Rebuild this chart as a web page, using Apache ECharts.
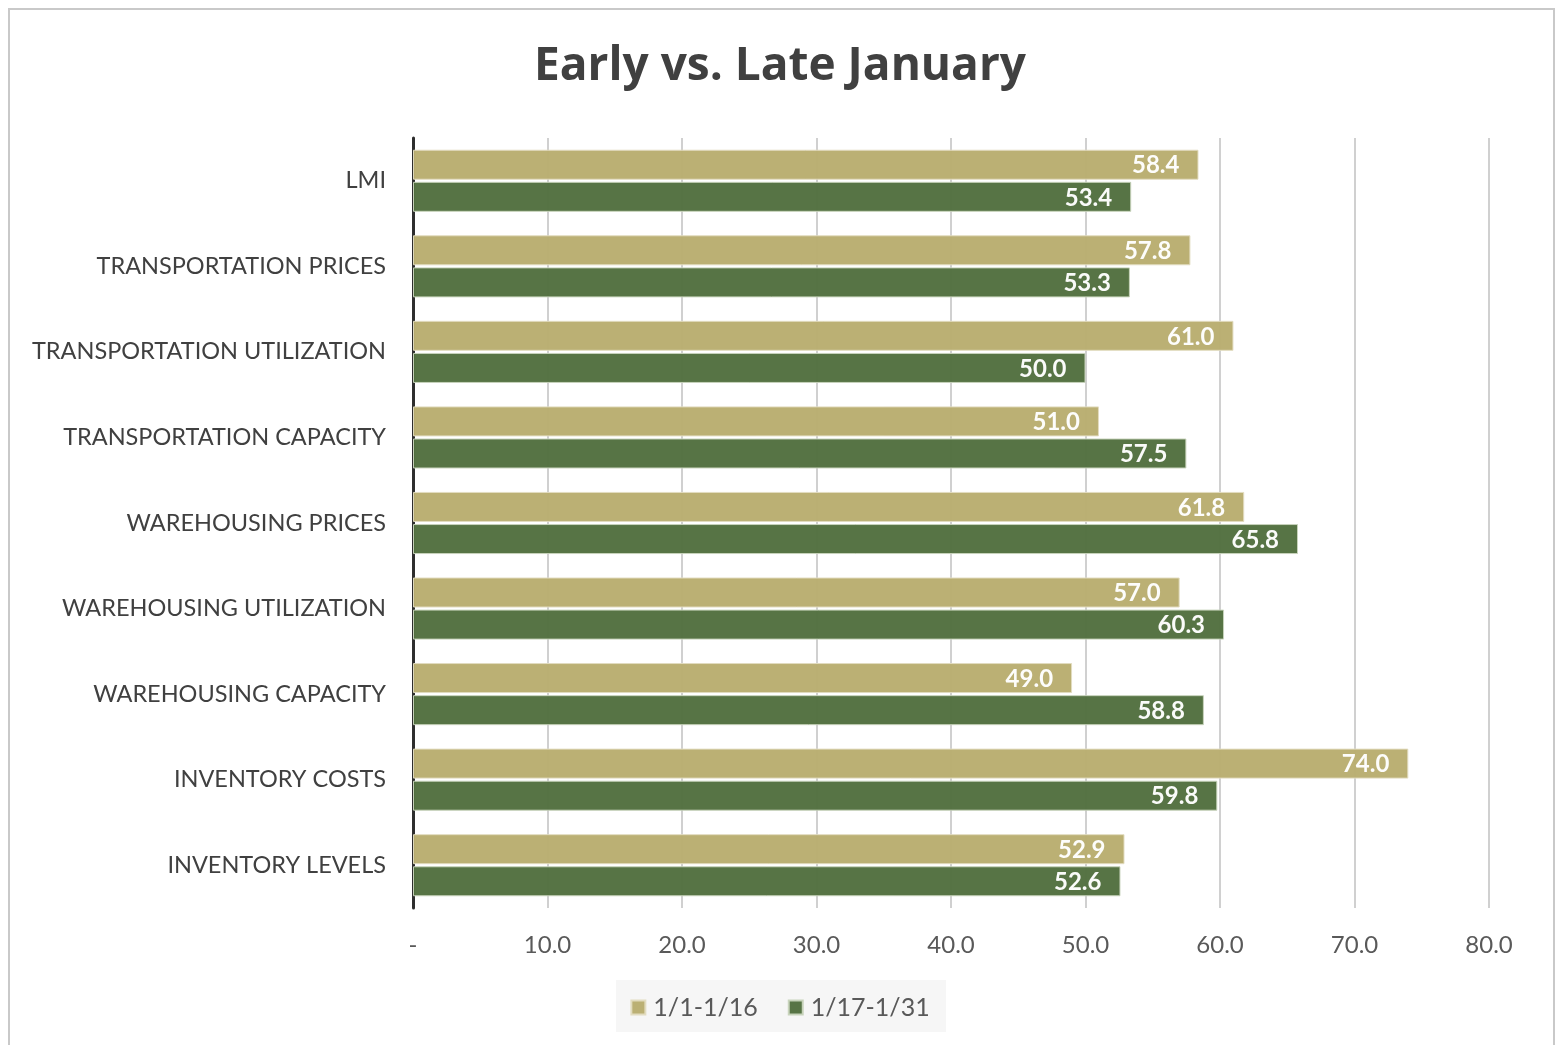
<!DOCTYPE html>
<html>
<head>
<meta charset="utf-8">
<script src="https://cdn.jsdelivr.net/npm/echarts@6/dist/echarts.min.js"></script>
<style>
  html, body { margin: 0; padding: 0; background: #ffffff; }
  #chart { width: 1560px; height: 1045px; }
</style>
</head>
<body>
<div id="chart"></div>
<script>
// Index components, listed top to bottom
const categories = [
  'LMI',
  'TRANSPORTATION PRICES',
  'TRANSPORTATION UTILIZATION',
  'TRANSPORTATION CAPACITY',
  'WAREHOUSING PRICES',
  'WAREHOUSING UTILIZATION',
  'WAREHOUSING CAPACITY',
  'INVENTORY COSTS',
  'INVENTORY LEVELS'
];

// First half of January
const earlyJan = [58.4, 57.8, 61.0, 51.0, 61.8, 57.0, 49.0, 74.0, 52.9];
// Second half of January
const lateJan = [53.4, 53.3, 50.0, 57.5, 65.8, 60.3, 58.8, 59.8, 52.6];

const seriesNames = ['1/1-1/16', '1/17-1/31'];
const xTicks = [0, 10, 20, 30, 40, 50, 60, 70, 80];

const FONT = 'Lato, "Open Sans", sans-serif';
const TITLE_FONT = '"Open Sans", "Noto Sans", sans-serif';
const TAN = '#b9ad70';
const GREEN = '#52703f';

const chart = echarts.init(document.getElementById('chart'));

const valueLabel = {
  show: true,
  position: 'insideRight',
  distance: 19,
  color: '#ffffff',
  fontFamily: FONT,
  fontWeight: 'bold',
  fontSize: 24,
  offset: [0, 1],
  formatter: p => p.value.toFixed(1)
};

chart.setOption({
  backgroundColor: '#ffffff',
  animation: false,
  graphic: [{
    type: 'rect',
    shape: { x: 9, y: 9, width: 1545, height: 1050 },
    style: { fill: 'none', stroke: '#c9c9c9', lineWidth: 2 },
    z: -10
  }, {
    type: 'rect',
    shape: { x: 616, y: 980, width: 330, height: 52 },
    style: { fill: '#f6f6f6' },
    z: -5
  }],
  title: {
    text: 'Early vs. Late January',
    left: 'center',
    top: 39,
    textStyle: {
      fontFamily: TITLE_FONT,
      fontWeight: 'bold',
      fontSize: 46,
      color: '#404040'
    }
  },
  legend: {
    data: seriesNames,
    bottom: 20,
    left: 'center',
    itemWidth: 14,
    itemHeight: 14,
    itemGap: 30,
    icon: 'rect',
    textStyle: { fontFamily: FONT, fontSize: 25, color: '#595959', padding: [0, 0, 0, 3] }
  },
  grid: {
    left: 413,
    right: 71,
    top: 138,
    bottom: 137,
    containLabel: false
  },
  xAxis: {
    type: 'value',
    min: 0,
    max: 80,
    interval: 10,
    axisLine: { show: false },
    axisTick: { show: false },
    splitLine: { show: true, lineStyle: { color: '#d0d0d0', width: 2 } },
    axisLabel: {
      margin: 25,
      fontFamily: FONT,
      fontSize: 24,
      color: '#595959',
      formatter: v => (xTicks.indexOf(v) === 0 ? '-' : v.toFixed(1))
    }
  },
  yAxis: {
    type: 'category',
    data: categories,
    inverse: true,
    axisLine: { show: true, lineStyle: { color: '#2e2e2e', width: 3 } },
    axisTick: { show: false },
    axisLabel: {
      margin: 27,
      fontFamily: FONT,
      fontSize: 23.5,
      color: '#404040'
    }
  },
  series: [{
    name: seriesNames[0],
    type: 'bar',
    data: earlyJan,
    barWidth: 30,
    barGap: '7%',
    itemStyle: { color: TAN, borderColor: '#e2dcc0', borderWidth: 1, opacity: 0.97 },
    label: valueLabel
  }, {
    name: seriesNames[1],
    type: 'bar',
    data: lateJan,
    barWidth: 30,
    itemStyle: { color: GREEN, borderColor: '#c8d4bc', borderWidth: 1, opacity: 0.97 },
    label: valueLabel
  }]
});
</script>
</body>
</html>
